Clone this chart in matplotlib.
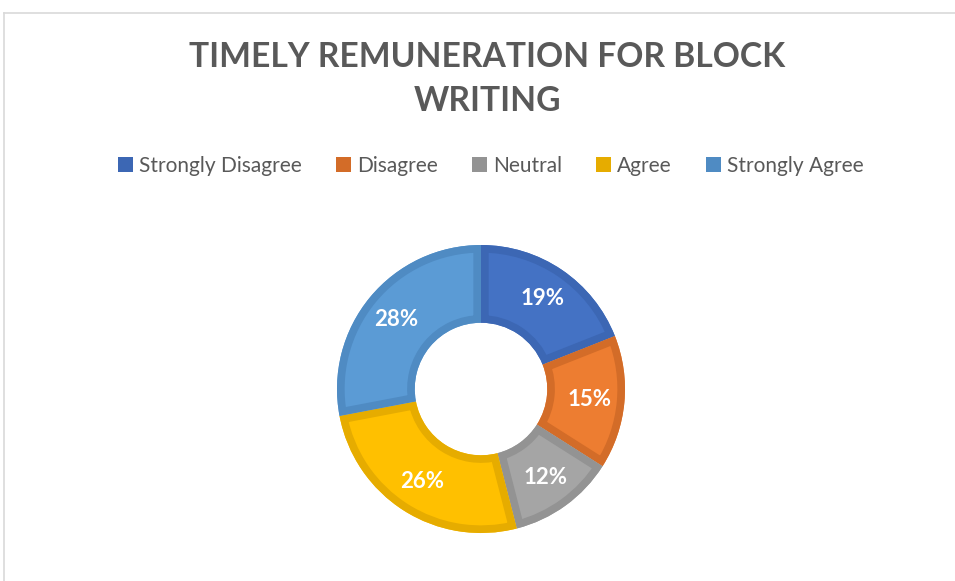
import matplotlib.pyplot as plt
from matplotlib.patches import Patch, Wedge
from matplotlib.lines import Line2D

plt.rcParams['font.family'] = ['Lato', 'DejaVu Sans']

categories = ['Strongly Disagree', 'Disagree', 'Neutral', 'Agree', 'Strongly Agree']
shares = [19, 15, 12, 26, 28]
title = 'TIMELY REMUNERATION FOR BLOCK\nWRITING'

fills = ['#4472C4', '#ED7D31', '#A5A5A5', '#FFC000', '#5B9BD5']
borders = ['#3C67B4', '#D36C28', '#939393', '#E6AC00', '#4F8BC3']
text_grey = '#595959'

W, H = 955, 581
fig = plt.figure(figsize=(W / 100, H / 100), dpi=100)

# donut centre / radius in pixels
cx, cy, r = 481, 389, 144
ax = fig.add_axes([(cx - r) / W, (H - cy - r) / H, 2 * r / W, 2 * r / H])
wedges, _, autotexts = ax.pie(
    shares, colors=fills, startangle=90, counterclock=False, radius=1,
    autopct='%1.0f%%', pctdistance=0.76,
    wedgeprops=dict(width=0.54, linewidth=0),
    textprops=dict(color='white', fontsize=16, fontweight='bold'))
# inner border: thick outline of a copy of each wedge, clipped to the wedge
for w, bc in zip(wedges, borders):
    edge = Wedge(w.center, w.r, w.theta1, w.theta2, width=w.width,
                 fill=False, edgecolor=bc, linewidth=11, zorder=w.get_zorder() + 0.1)
    ax.add_patch(edge)
    edge.set_clip_path(w)
for t in autotexts:
    t.set_zorder(5)
ax.set_xlim(-1, 1)
ax.set_ylim(-1, 1)
ax.set_aspect('equal')
ax.axis('off')

fig.text(487 / W, 1 - 79 / H, title, ha='center', va='center',
         fontsize=24.2, fontweight='bold', color=text_grey, linespacing=1.45)

handles = [Patch(facecolor=bc, edgecolor='none') for bc in borders]
fig.legend(handles, categories, loc='center', bbox_to_anchor=(491 / W, 1 - 166 / H),
           ncol=5, frameon=False, fontsize=15, labelcolor=text_grey,
           handlelength=0.7, handleheight=0.75, handletextpad=0.3,
           columnspacing=1.65)

# chart frame (only top and left edges visible in the crop)
fig.add_artist(Line2D([4 / W, 1], [1 - 13 / H, 1 - 13 / H], color='#D9D9D9', lw=1.2))
fig.add_artist(Line2D([4 / W, 4 / W], [0, 1 - 13 / H], color='#D9D9D9', lw=1.2))

fig.savefig('out.png', dpi=100, facecolor='white')
